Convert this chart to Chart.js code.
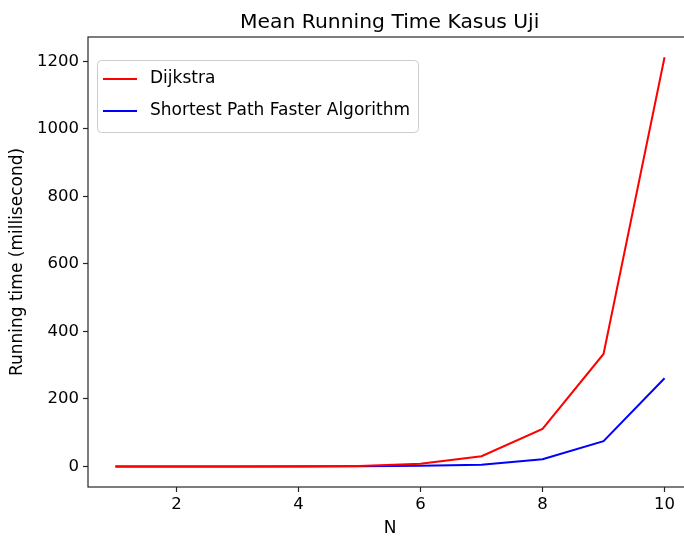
<!DOCTYPE html>
<html>
<head>
<meta charset="utf-8">
<title>Mean Running Time Kasus Uji</title>
<script src="https://cdn.jsdelivr.net/npm/chart.js@4"></script>
<style>
  html, body { margin: 0; padding: 0; background: #fff; overflow: hidden; }
  #wrap { width: 692px; height: 539px; }
</style>
</head>
<body>
<div id="wrap"><canvas id="chart" width="692" height="539"></canvas></div>
<script>
// data
const nValues = [1, 2, 3, 4, 5, 6, 7, 8, 9, 10];
const dijkstraMs = [0, 0, 0, 0.3, 1.5, 8, 30, 111, 333, 1212];
const spfaMs = [0, 0, 0, 0, 0.5, 2, 5, 21, 75, 261];
const xTicks = [2, 4, 6, 8, 10];
const yTicks = [0, 200, 400, 600, 800, 1000, 1200];

const FONT = '"DejaVu Sans", sans-serif';
const AXIS = '#262626';
const FS = 16.5;   // tick labels
const LFS = 17;    // legend + axis titles

function toPoints(ys) { return nValues.map((n, i) => ({ x: n, y: ys[i] })); }

// matplotlib-ish legend box, drawn inside the plot area (top left)
const boxLegend = {
  id: 'boxLegend',
  afterDraw(chart) {
    const ctx = chart.ctx;
    const a = chart.chartArea;
    const x = a.left + 9, y = a.top + 23, w = 321, h = 72, r = 4;
    ctx.save();
    ctx.beginPath();
    ctx.roundRect(x + 0.5, y + 0.5, w, h, r);
    ctx.fillStyle = 'rgba(255,255,255,0.8)';
    ctx.fill();
    ctx.strokeStyle = '#cccccc';
    ctx.lineWidth = 1;
    ctx.stroke();
    ctx.font = LFS + 'px ' + FONT;
    ctx.textBaseline = 'middle';
    chart.data.datasets.forEach((ds, i) => {
      const ry = y + 19 + i * 32;
      ctx.beginPath();
      ctx.moveTo(x + 6, ry);
      ctx.lineTo(x + 40, ry);
      ctx.strokeStyle = ds.borderColor;
      ctx.lineWidth = 2;
      ctx.stroke();
      ctx.fillStyle = '#000';
      ctx.fillText(ds.label, x + 53, ry);
    });
    ctx.restore();
  }
};

// title + frame
const frame = {
  id: 'frame',
  afterDraw(chart) {
    const ctx = chart.ctx;
    const a = chart.chartArea;
    ctx.save();
    ctx.strokeStyle = AXIS;
    ctx.lineWidth = 1.2;
    ctx.strokeRect(a.left, a.top, a.right - a.left, a.bottom - a.top);
    ctx.fillStyle = '#000';
    ctx.font = '20.3px ' + FONT;
    ctx.textAlign = 'center';
    ctx.textBaseline = 'alphabetic';
    ctx.fillText('Mean Running Time Kasus Uji', (a.left + 691.5) / 2, 28);
    ctx.restore();
  }
};

new Chart(document.getElementById('chart'), {
  type: 'line',
  data: {
    datasets: [
      { label: 'Dijkstra', data: toPoints(dijkstraMs), borderColor: '#ff0000', borderWidth: 2, pointRadius: 0, tension: 0, fill: false },
      { label: 'Shortest Path Faster Algorithm', data: toPoints(spfaMs), borderColor: '#0000ff', borderWidth: 2, pointRadius: 0, tension: 0, fill: false }
    ]
  },
  options: {
    responsive: false,
    animation: false,
    layout: { padding: { top: 37, right: 0, bottom: 0, left: 0 } },
    plugins: { legend: { display: false }, title: { display: false }, tooltip: { enabled: false } },
    scales: {
      x: {
        type: 'linear',
        min: 0.55,
        max: 10.45,
        afterBuildTicks: (s) => { s.ticks = xTicks.map(v => ({ value: v })); },
        afterFit: (s) => { s.height = 52; },
        border: { display: false },
        grid: { drawOnChartArea: false, tickLength: 5, tickColor: AXIS, tickWidth: 1.2 },
        ticks: { color: '#000', font: { family: FONT, size: FS }, padding: 3, maxRotation: 0, callback: (v) => String(v) },
        title: { display: true, text: 'N', color: '#000', font: { family: FONT, size: LFS }, padding: { top: 2, bottom: 0 } }
      },
      y: {
        type: 'linear',
        min: -61,
        max: 1272,
        afterBuildTicks: (s) => { s.ticks = yTicks.map(v => ({ value: v })); },
        afterFit: (s) => { s.width = 88; },
        border: { display: false },
        grid: { drawOnChartArea: false, tickLength: 5, tickColor: AXIS, tickWidth: 1.2 },
        ticks: { color: '#000', font: { family: FONT, size: FS }, padding: 4, callback: (v) => String(v) },
        title: { display: true, text: 'Running time (millisecond)', color: '#000', font: { family: FONT, size: LFS }, padding: { top: 7, bottom: 0 } }
      }
    }
  },
  plugins: [boxLegend, frame]
});
</script>
</body>
</html>
